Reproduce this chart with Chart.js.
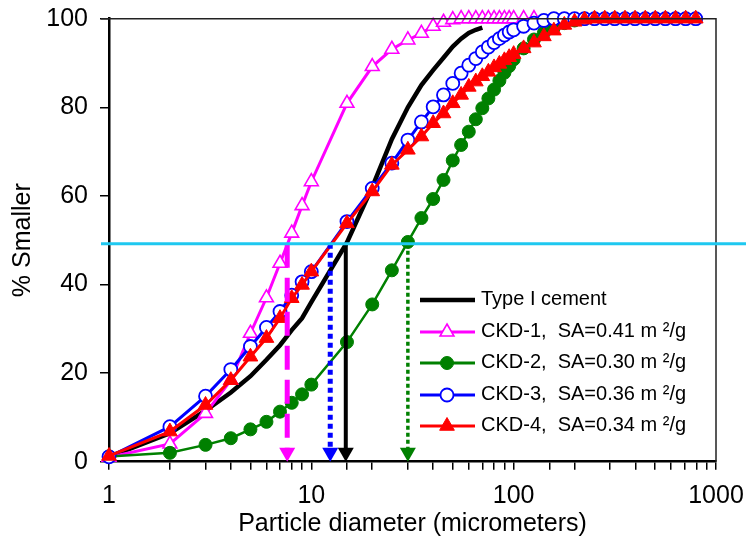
<!DOCTYPE html>
<html><head><meta charset="utf-8">
<script src="https://cdn.jsdelivr.net/npm/chart.js@4.4.1/dist/chart.umd.min.js"></script>
<style>html,body{margin:0;padding:0;background:#fff}#wrap{width:746px;height:550px}</style>
</head><body><div id="wrap"><canvas id="c" width="746" height="550"></canvas></div>
<script>
// ---- data ----
const sizes = [1,2,3,4,5,6,7,8,9,10,15,20,25,30,35,40,45,50,55,60,65,70,75,80,85,90,95,100,
  112,126,141,158,178,200,224,251,282,316,355,398,447,501,562,631,708,794];
const cement = [1.1,6.4,11.5,15.6,19.3,23.0,26.3,29.7,32.4,36.0,49.5,62.0,72.8,80.0,85.0,88.4,91.2,93.7,95.5,96.8,97.5,98.0];
const ckd1 = [1.0,4.0,10.9,18.4,29.0,37.0,44.8,51.6,57.8,63.2,80.9,89.2,93.1,95.2,96.7,98.3,99.2,99.8,100,100,100,100,100,100,100,100,100,100,100,100];
const ckd2 = [1.2,2.0,3.8,5.3,7.3,9.0,11.3,13.3,15.2,17.4,27.0,35.5,43.2,49.6,55.0,59.3,63.6,68.0,71.5,74.5,77.3,79.8,82.0,84.0,86.0,87.8,89.3,90.8,
  93.3,95.3,96.8,98.0,99.0,99.6,100,100,100,100,100,100,100,100,100,100,100,100];
const ckd3 = [1.1,7.9,14.8,20.8,26.0,30.3,33.9,37.6,40.6,42.9,54.2,61.7,67.4,72.6,76.7,80.1,82.8,85.4,87.7,89.5,91.0,92.5,93.6,94.6,95.5,96.3,97.0,97.5,
  98.3,99.0,99.6,100,100,100,100,100,100,100,100,100,100,100,100,100,100,100];
const ckd4 = [1.3,6.8,12.8,18.4,23.7,27.9,32.4,36.9,39.9,42.9,53.8,61.0,67.0,70.4,73.4,76.4,78.6,80.9,82.8,84.6,85.8,87.0,88.0,89.0,89.8,90.6,91.3,92.0,
  93.3,94.6,96.0,97.3,98.6,99.3,99.8,100,100,100,100,100,100,100,100,100,100,100];
const seriesNames = ['Type I cement','CKD-1,  SA=0.41 m \u00B2/g','CKD-2,  SA=0.30 m \u00B2/g','CKD-3,  SA=0.36 m \u00B2/g','CKD-4,  SA=0.34 m \u00B2/g'];
const d50Sizes = [7.6, 12.4, 14.8, 30];   // CKD-1, CKD-3/4, cement, CKD-2
const d50Level = 49.2;
const xTickLabels = [1, 10, 100, 1000];
const yTickStep = 20;

// ---- styles ----
const FONT = "'Liberation Sans', Arial, sans-serif";
const styles = [
  {color:'#000000', width:4.5, point:false},
  {color:'#FF00FF', width:3, point:'triangle', fill:'#FFFFFF', r:8, bw:1.6},
  {color:'#008000', width:2.5, point:'circle', fill:'#008000', r:6.5, bw:1},
  {color:'#0000FF', width:3, point:'circle', fill:'#FFFFFF', r:6.5, bw:1.8},
  {color:'#FF0000', width:3, point:'triangle', fill:'#FF0000', r:8.5, bw:1}
];
const arrowStyles = [
  {color:'#FF00FF', width:5, dash:[24,10]},
  {color:'#0000FF', width:5, dash:[5,4]},
  {color:'#000000', width:4, dash:[]},
  {color:'#008000', width:3.5, dash:[4,3]}
];
const allSeries = [cement, ckd1, ckd2, ckd3, ckd4];

const datasets = allSeries.map((vals, k) => {
  const st = styles[k];
  const pts = [];
  vals.forEach((v, i) => { if (v !== null && v !== undefined) pts.push({x: sizes[i], y: v}); });
  return {
    label: seriesNames[k],
    data: pts,
    borderColor: st.color,
    borderWidth: st.width,
    backgroundColor: st.fill || st.color,
    pointStyle: st.point || 'circle',
    pointRadius: st.point ? st.r : 0,
    pointBackgroundColor: st.fill || st.color,
    pointBorderColor: st.color,
    pointBorderWidth: st.bw || 1,
    tension: 0,
    fill: false,
    clip: false,
    order: 5 - k
  };
});

function drawMarker(ctx, st, x, y) {
  if (!st.point) return;
  ctx.save();
  ctx.fillStyle = st.fill; ctx.strokeStyle = st.color; ctx.lineWidth = st.bw;
  ctx.setLineDash([]);
  ctx.beginPath();
  if (st.point === 'circle') {
    ctx.arc(x, y, st.r, 0, Math.PI * 2);
  } else {
    const r = st.r;
    ctx.moveTo(x, y - r);
    ctx.lineTo(x + 0.866 * r, y + 0.5 * r);
    ctx.lineTo(x - 0.866 * r, y + 0.5 * r);
    ctx.closePath();
  }
  ctx.fill(); ctx.stroke();
  ctx.restore();
}

const overlay = {
  id: 'overlay',
  afterDatasetsDraw(chart) {
    const ctx = chart.ctx, xs = chart.scales.x, ys = chart.scales.y, ca = chart.chartArea;
    ctx.save();
    // frame top/right
    ctx.strokeStyle = '#222'; ctx.lineWidth = 1.5; ctx.setLineDash([]);
    ctx.beginPath();
    ctx.moveTo(ca.left - 8, ca.top); ctx.lineTo(ca.right, ca.top); ctx.lineTo(ca.right, ca.bottom);
    ctx.stroke();
    // d50 arrows
    const yTop = ys.getPixelForValue(d50Level);
    const yBot = ys.getPixelForValue(0);
    d50Sizes.forEach((d, i) => {
      const st = arrowStyles[i];
      const x = xs.getPixelForValue(d);
      const headH = 14, headW = 16;
      ctx.strokeStyle = st.color; ctx.lineWidth = st.width; ctx.setLineDash(st.dash); ctx.lineCap = 'butt';
      ctx.beginPath(); ctx.moveTo(x, yTop); ctx.lineTo(x, yBot - headH + 2); ctx.stroke();
      ctx.setLineDash([]);
      ctx.fillStyle = st.color;
      ctx.beginPath();
      ctx.moveTo(x - headW / 2, yBot - headH); ctx.lineTo(x + headW / 2, yBot - headH); ctx.lineTo(x, yBot);
      ctx.closePath(); ctx.fill();
    });
    // 50% line
    ctx.strokeStyle = '#1EC8F0'; ctx.lineWidth = 3; ctx.setLineDash([]);
    ctx.beginPath(); ctx.moveTo(ca.left - 8, yTop); ctx.lineTo(chart.width, yTop); ctx.stroke();
    // legend
    const rows = [300, 332, 363, 395, 426];
    ctx.font = '20px ' + FONT; ctx.textBaseline = 'middle'; ctx.textAlign = 'left'; ctx.fillStyle = '#000';
    seriesNames.forEach((name, k) => {
      const st = styles[k], y = rows[k];
      ctx.strokeStyle = st.color; ctx.lineWidth = k === 0 ? 4.5 : 3; ctx.setLineDash([]);
      ctx.beginPath(); ctx.moveTo(420, y); ctx.lineTo(475, y); ctx.stroke();
      drawMarker(ctx, st, 447, y);
      ctx.fillStyle = '#000';
      ctx.fillText(name, 481, y - 1);
    });
    ctx.restore();
  }
};

new Chart(document.getElementById('c'), {
  type: 'line',
  data: { datasets },
  options: {
    responsive: false,
    animation: false,
    devicePixelRatio: 1,
    events: [],
    layout: { padding: { left: 4, right: 30, top: 18.7, bottom: 4 } },
    plugins: { legend: { display: false }, tooltip: { enabled: false } },
    scales: {
      x: {
        type: 'logarithmic', min: 1, max: 1000,
        afterFit: s => { s.height = 84.3; s.paddingLeft = 0; s.paddingRight = 0; },
        border: { display: true, color: '#000', width: 2.5 },
        grid: { drawOnChartArea: false, drawTicks: true, tickLength: 8, color: '#000', lineWidth: 1.5 },
        ticks: {
          autoSkip: false, maxRotation: 0, minRotation: 0, padding: 11, color: '#000',
          font: { family: FONT, size: 25 },
          callback: v => xTickLabels.includes(Number(v)) ? String(Number(v)) : ''
        },
        title: { display: true, text: 'Particle diameter (micrometers)', color: '#000',
          font: { family: FONT, size: 25 }, padding: { top: 0, bottom: 7 } }
      },
      y: {
        type: 'linear', min: 0, max: 100,
        afterFit: s => { s.width = 105; s.paddingTop = 0; s.paddingBottom = 0; },
        border: { display: true, color: '#000', width: 2.5 },
        grid: { drawOnChartArea: false, drawTicks: true, tickLength: 9, color: '#000', lineWidth: 1.5 },
        ticks: { stepSize: yTickStep, padding: 12, color: '#000', font: { family: FONT, size: 25 } },
        title: { display: true, text: '% Smaller', color: '#000',
          font: { family: FONT, size: 25 }, padding: { top: 4, bottom: 4 } }
      }
    }
  },
  plugins: [overlay]
});
</script>
</body></html>
